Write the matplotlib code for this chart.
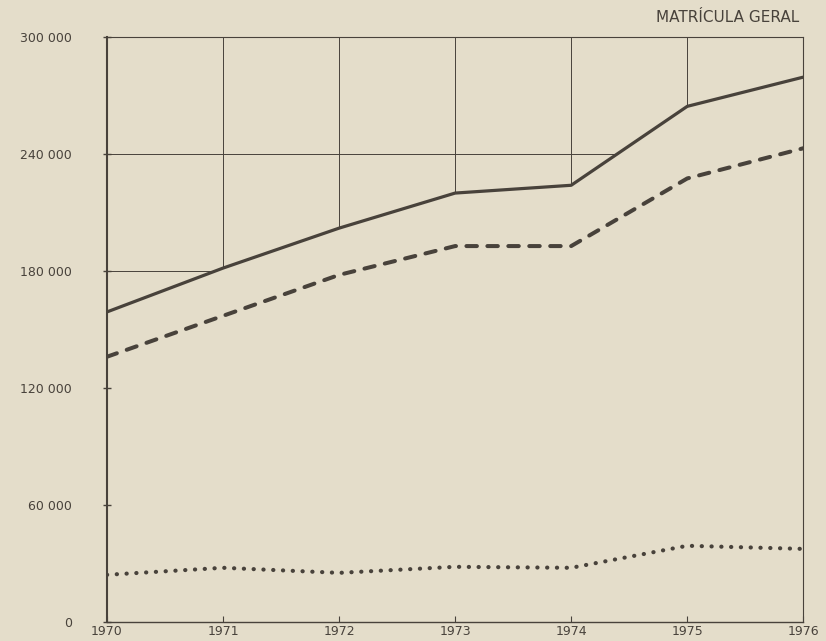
import matplotlib.pyplot as plt
from matplotlib.patches import Polygon

# Data
years = [1970, 1971, 1972, 1973, 1974, 1975, 1976]
total = [159000, 181500, 202000, 220000, 224000, 264500, 279500]
dashed = [136000, 157000, 178000, 192800, 192800, 227500, 243000]
dotted = [24100, 27700, 25100, 28200, 27700, 39000, 37400]

y_ticks = [0, 60000, 120000, 180000, 240000, 300000]
y_labels = ['0', '60 000', '120 000', '180 000', '240 000', '300 000']
grid_y = [180000, 240000]

bg = '#e4ddca'
ink = '#48423b'

fig = plt.figure(figsize=(8.26, 6.41), dpi=100, facecolor=bg)
ax = fig.add_axes([0.1295, 0.03, 0.843, 0.912])
ax.set_facecolor(bg)

ax.plot(years, total, color=ink, linewidth=2.3, solid_capstyle='butt', zorder=3)
ax.plot(years, dashed, color=ink, linewidth=2.9, linestyle=(0, (2.6, 2.6)),
        dash_capstyle='round', zorder=3)
ax.plot(years, dotted, color=ink, linewidth=3.0, linestyle=(0, (0.05, 2.3)),
        dash_capstyle='round', zorder=3)

ax.set_xlim(1970, 1976)
ax.set_ylim(0, 300000)

# grid only in the area above the total line
clip = Polygon(list(zip(years, total)) + [(years[-1], 300000), (years[0], 300000)],
               closed=True, transform=ax.transData, facecolor='none', edgecolor='none')
ax.add_patch(clip)
for yr in years[1:-1]:
    ln = ax.axvline(yr, color=ink, linewidth=0.7, zorder=1)
    ln.set_clip_path(clip)
for gy in grid_y:
    ln = ax.axhline(gy, color=ink, linewidth=0.7, zorder=1)
    ln.set_clip_path(clip)

ax.set_xticks(years)
ax.set_xticklabels([str(y) for y in years], fontsize=9, color=ink)
ax.set_yticks(y_ticks)
ax.set_yticklabels(y_labels, fontsize=9, color=ink)
ax.tick_params(axis='y', direction='inout', length=6, width=1, color=ink, pad=22)
ax.tick_params(axis='x', direction='in', length=4, width=0.8, color=ink, pad=2)

ax.spines['left'].set_linewidth(1.5)
ax.spines['bottom'].set_linewidth(1.0)
ax.spines['top'].set_linewidth(0.8)
ax.spines['right'].set_linewidth(0.8)
for s in ax.spines.values():
    s.set_color(ink)

fig.text(0.968, 0.972, 'MATRÍCULA GERAL', ha='right', va='center', fontsize=11,
         color=ink, fontfamily='DejaVu Sans')

fig.savefig('out.png', dpi=100, facecolor=bg)
